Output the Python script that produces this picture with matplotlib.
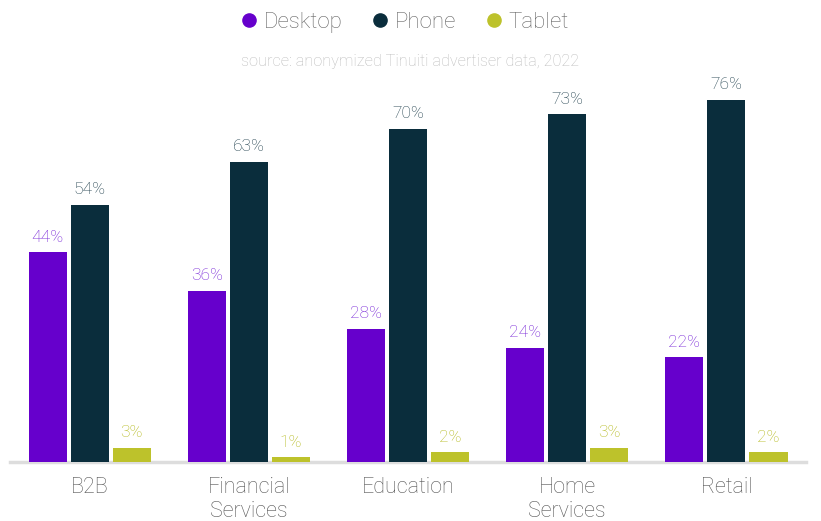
import matplotlib
matplotlib.use("Agg")
import matplotlib.pyplot as plt
from matplotlib.lines import Line2D
import numpy as np

plt.rcParams['font.family'] = ['Roboto', 'DejaVu Sans']
plt.rcParams['font.weight'] = 'light'

categories = ["B2B", "Financial\nServices", "Education", "Home\nServices", "Retail"]
desktop = [44, 36, 28, 24, 22]
phone = [54, 63, 70, 73, 76]
tablet = [3, 1, 2, 3, 2]

series = [
    ("Desktop", desktop, "#6600cc", "#7420d6"),
    ("Phone", phone, "#0a2d3c", "#1f3f4c"),
    ("Tablet", tablet, "#bdc22b", "#b4b91c"),
]

fig = plt.figure(figsize=(8.21, 5.21), dpi=100)
ax = fig.add_axes([0.0122, 0.1132, 0.9696, 0.7313])

x = np.arange(len(categories))
width = 0.239
step = 0.264

for i, (name, vals, color, label_color) in enumerate(series):
    pos = x + (i - 1) * step
    bars = ax.bar(pos, vals, width=width, color=color, zorder=2)
    for b, v in zip(bars, vals):
        ax.annotate(f"{v}%", (b.get_x() + b.get_width() / 2, v),
                    xytext=(0, 5.5), textcoords="offset points",
                    ha="center", va="bottom", fontsize=12.5,
                    color=label_color, fontweight="light")

ax.set_xlim(-0.5, 4.5)
ax.set_ylim(0, 80)
ax.set_xticks(x)
ax.set_xticklabels(categories, fontsize=15.5, color="#555555",
                   linespacing=1.18)
ax.tick_params(axis="x", length=0, pad=11)
ax.set_yticks([])
for s in ["left", "right", "top"]:
    ax.spines[s].set_visible(False)
ax.spines["bottom"].set_color("#dddddd")
ax.spines["bottom"].set_linewidth(2.5)
ax.spines["bottom"].set_zorder(1)

handles = [Line2D([], [], marker="o", linestyle="none", markersize=9.5,
                  markerfacecolor=c, markeredgecolor=c, label=n)
           for n, _, c, _ in series]
leg = fig.legend(handles=handles, loc="upper center", ncol=3,
                 bbox_to_anchor=(0.494, 1.015), frameon=False,
                 fontsize=16, handlelength=0.63, handletextpad=0.36,
                 columnspacing=1.35)
for t in leg.get_texts():
    t.set_color("#666666")

fig.text(0.5, 0.881, "source: anonymized Tinuiti advertiser data, 2022",
         ha="center", va="center", fontsize=11.7, color="#bbbbbb")

fig.savefig("out.png", dpi=100)
